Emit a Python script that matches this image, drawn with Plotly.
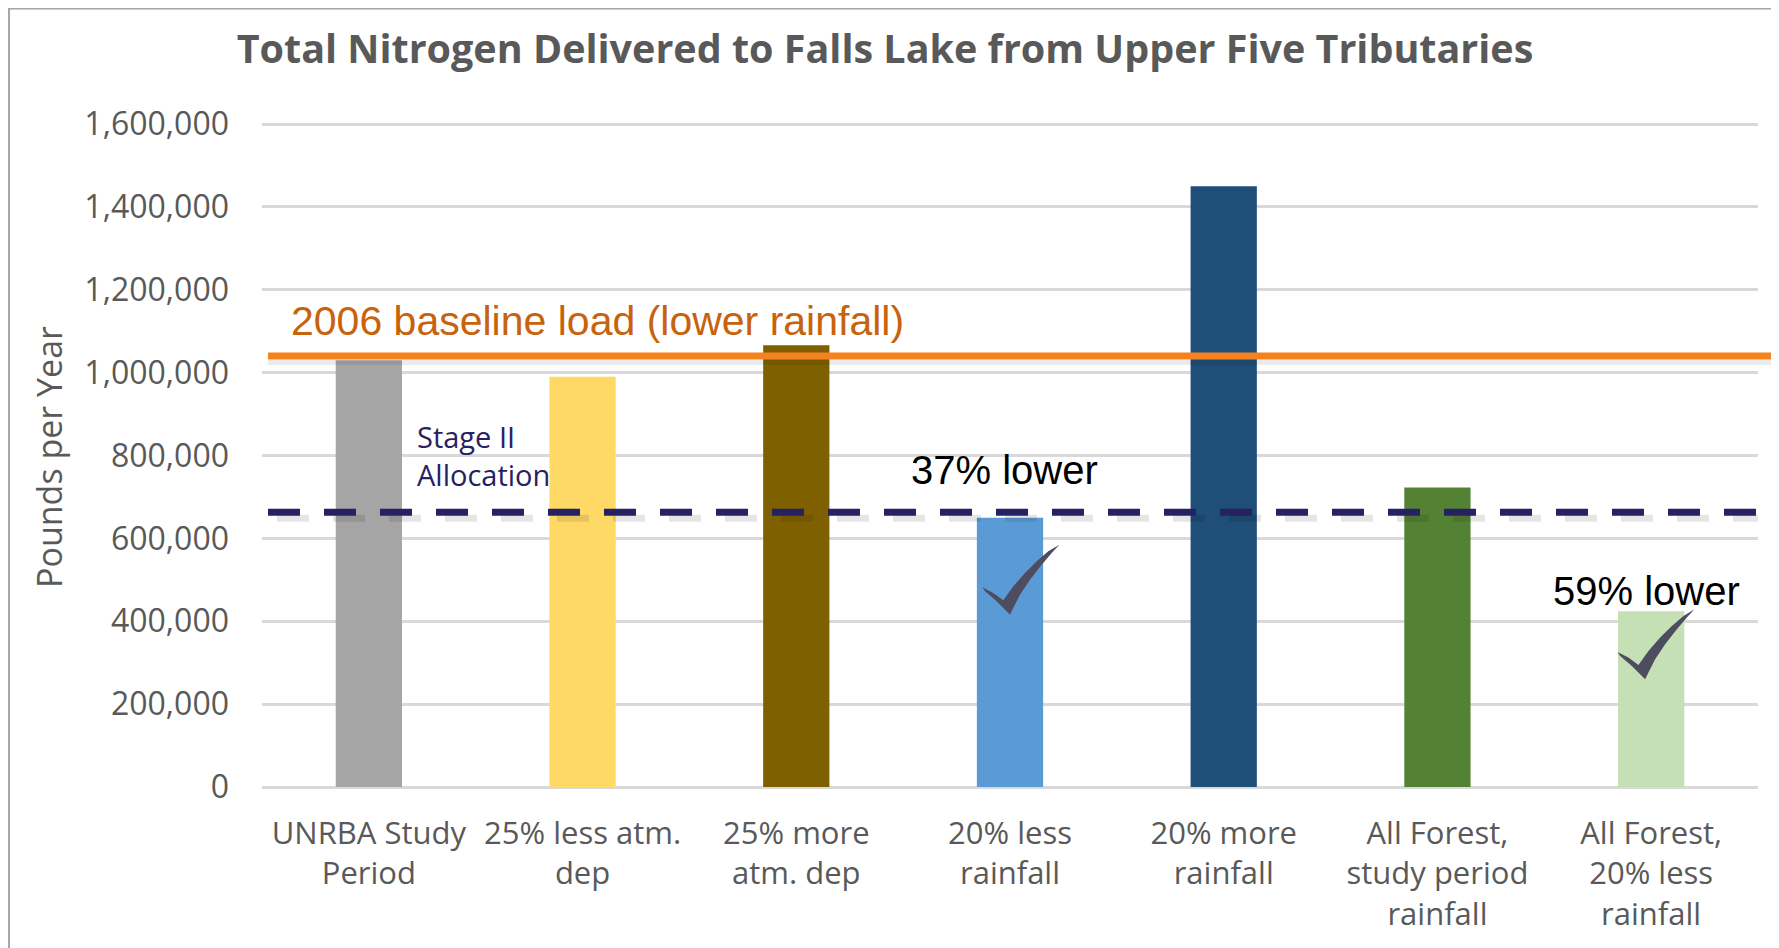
import plotly.graph_objects as go

categories = ["UNRBA Study<br>Period", "25% less atm.<br>dep", "25% more<br>atm. dep",
              "20% less<br>rainfall", "20% more<br>rainfall", "All Forest,<br>study period<br>rainfall",
              "All Forest,<br>20% less<br>rainfall"]
loads = [1030000, 990000, 1066000, 650000, 1450000, 723000, 424000]
bar_colors = ["#A5A5A5", "#FFD966", "#7F6000", "#5B9BD5", "#1F4E79", "#548235", "#C5E0B4"]
baseline_load = 1040000
stage2_allocation = 663000
y_ticks = [0, 200000, 400000, 600000, 800000, 1000000, 1200000, 1400000, 1600000]

x_idx = list(range(len(categories)))

fig = go.Figure()
fig.add_trace(go.Bar(x=x_idx, y=loads, marker=dict(color=bar_colors, line=dict(width=0)),
                     width=0.31, hoverinfo="y"))

# check-mark outline (pixels, relative to its bottom vertex, y up)
CHECK = [(0, 0), (-13.3, 13.3), (-25, 23.3), (-27.7, 27.3), (-16.7, 21.7), (-6.7, 14.3),
         (3.3, 28.3), (15, 41.7), (26.7, 53.3), (38.3, 63.3), (49.3, 70),
         (41.7, 61.7), (31.7, 50), (20, 35), (10, 20), (3.3, 6.7)]


def check_path(dx, dy):
    pts = [f"{x + dx:.1f},{y + dy:.1f}" for x, y in CHECK]
    return "M" + " L".join(pts) + " Z"


shapes = []
# soft shadows under the reference lines
shapes.append(dict(type="rect", xref="paper", yref="y", x0=0.004, x1=1.012,
                   ysizemode="pixel", yanchor=baseline_load, y0=-4, y1=-9,
                   fillcolor="rgba(0,0,0,0.08)", line=dict(width=0), layer="above"))
shapes.append(dict(type="line", xref="paper", yref="y", x0=0.010, x1=1.0,
                   ysizemode="pixel", yanchor=stage2_allocation, y0=-6, y1=-6,
                   line=dict(color="rgba(0,0,0,0.10)", width=7, dash="32px,24px"), layer="above"))
# reference lines
shapes.append(dict(type="line", xref="paper", yref="y", x0=0.004, x1=1.012,
                   y0=baseline_load, y1=baseline_load,
                   line=dict(color="#F4821F", width=7), layer="above"))
shapes.append(dict(type="line", xref="paper", yref="y", x0=0.004, x1=1.0,
                   y0=stage2_allocation, y1=stage2_allocation,
                   line=dict(color="#262262", width=7, dash="32px,24px"), layer="above"))
# check marks anchored to the two qualifying bars
shapes.append(dict(type="path", xref="x", yref="y", xsizemode="pixel", ysizemode="pixel",
                   xanchor=3, yanchor=loads[3], path=check_path(0, -97),
                   fillcolor="#4E4D60", line=dict(width=0), layer="above"))
shapes.append(dict(type="path", xref="x", yref="y", xsizemode="pixel", ysizemode="pixel",
                   xanchor=6, yanchor=loads[6], path=check_path(-6, -68),
                   fillcolor="#4E4D60", line=dict(width=0), layer="above"))
# outer frame
shapes.append(dict(type="rect", xref="paper", yref="paper", x0=-0.1691, x1=1.012,
                   y0=-0.5, y1=1.1499, line=dict(color="#A6A6A6", width=2),
                   fillcolor="rgba(0,0,0,0)", layer="below"))

annotations = [
    dict(text="Pounds per Year", xref="paper", yref="paper", x=-0.1424, y=0.4874,
         xanchor="center", yanchor="middle",
         textangle=-90, showarrow=False, font=dict(family="Open Sans", size=34, color="#595959")),
    dict(text="2006 baseline load (lower rainfall)", xref="paper", yref="y", x=0.018, y=baseline_load,
         xanchor="left", yanchor="bottom", yshift=10, showarrow=False,
         font=dict(family="Liberation Sans", size=41, color="#C8620C")),
    dict(text="Stage II<br>Allocation", xref="paper", yref="y", x=0.102, y=stage2_allocation,
         xanchor="left", yanchor="bottom", yshift=16, showarrow=False, align="left",
         font=dict(family="Open Sans", size=29, color="#262262")),
    dict(text="37% lower", xref="x", yref="y", x=3, y=stage2_allocation,
         xanchor="center", yanchor="bottom", xshift=-6, yshift=18, showarrow=False,
         font=dict(family="Liberation Sans", size=40, color="#000000")),
    dict(text="59% lower", xref="x", yref="y", x=6, y=loads[6],
         xanchor="center", yanchor="bottom", xshift=-5, yshift=-4, showarrow=False,
         font=dict(family="Liberation Sans", size=40, color="#000000")),
]

fig.update_layout(
    width=1771, height=940,
    margin=dict(l=254, r=21, t=102, b=161),
    paper_bgcolor="white", plot_bgcolor="white",
    showlegend=False, bargap=0.69,
    title=dict(text="<b>Total Nitrogen Delivered to Falls Lake from Upper Five Tributaries</b>",
               x=0.4952, xanchor="center", y=0.9566, yanchor="middle",
               font=dict(family="Open Sans", size=39.5, color="#595959")),
    xaxis=dict(tickvals=x_idx, ticktext=categories, range=[-0.5, 6.5],
               showgrid=False, zeroline=False, showline=False, ticks="",
               tickfont=dict(family="Open Sans", size=31, color="#595959"),
               ticklabelstandoff=25, automargin=False),
    yaxis=dict(range=[0, 1633800], tickvals=y_ticks,
               ticktext=[f"{v:,}" for v in y_ticks],
               showgrid=True, gridcolor="#D9D9D9", gridwidth=3,
               zeroline=True, zerolinecolor="#D9D9D9", zerolinewidth=3,
               showline=False, ticks="",
               tickfont=dict(family="Open Sans", size=32, color="#595959"),
               ticklabelstandoff=32, automargin=False),
    shapes=shapes, annotations=annotations,
)

fig.write_html("out.html")
